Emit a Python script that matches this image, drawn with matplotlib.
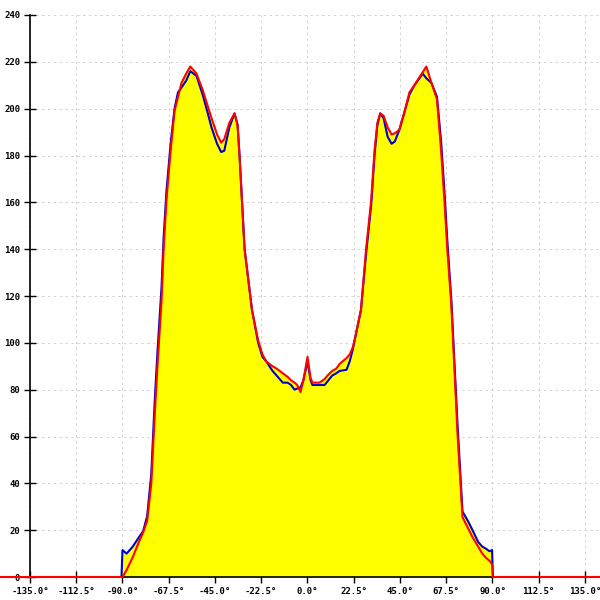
import numpy as np
import matplotlib
matplotlib.use('Agg')
import matplotlib.pyplot as plt

# angle grid (degrees) shared by both traces
angles = [-150, -90.5, -90, -88, -85, -82, -80, -78, -76, -74.4, -73, -71, -70,
          -68.6, -66.6, -64.7, -63, -61.3, -59, -57, -54, -51, -48.5, -46.7, -44,
          -42, -40.5, -38, -35.5, -34, -33, -30.6, -27, -24, -21.9, -20, -17, -15,
          -12, -9.7, -8, -6.3, -5, -3.4, -2, 0, 1.5, 2.4, 5.8, 8.3, 9.7, 12, 14,
          15.6, 19, 20.5, 22, 22.9, 26, 28.5, 31, 32.6, 34, 35.4, 37, 39, 40.9,
          42.5, 44.7, 47, 49.6, 52, 54.5, 56, 57.8, 60.3, 63, 65, 66.6, 68, 70,
          73, 75.4, 78, 80.3, 83, 85, 87, 88.5, 89.8, 90.2, 150]

red = [0, 0, 0, 3, 8.5, 15, 19, 24, 40, 68, 90, 118, 140,
       161, 182, 199, 205, 211, 215, 218, 215, 208, 201, 196, 189,
       185.5, 187, 194, 198, 193, 179, 140, 114, 101, 95, 92, 90, 89,
       87, 85.5, 84, 83, 82, 79, 84, 94, 85, 83, 83, 84.5, 86, 88, 89,
       91, 93.5, 95, 98, 101, 114, 140, 161, 182, 194, 198, 197, 192, 189,
       189.5, 191, 198, 207, 210, 213.5, 215.5, 218, 211, 204, 182, 161, 140, 116,
       61, 25.6, 21, 17, 13, 10, 8, 7, 5.5, 0, 0]

blue = [0, 0, 11.5, 10, 13, 17, 19.5, 26, 44, 74, 96, 124, 145,
        165, 185, 200, 207, 209, 212, 216, 214, 206, 198, 192, 185,
        181.5, 182, 192, 198, 193, 179, 140, 114, 100, 94, 92, 88, 86,
        83, 83, 82, 80, 80.5, 81, 84, 92, 84, 82, 82, 82, 83.5, 86, 87,
        88, 88.5, 92, 97, 101, 114, 138, 159, 180, 193, 198, 196, 188, 185,
        186, 191, 198, 206, 210, 213, 215, 213, 211, 205, 186, 165, 144, 118,
        65, 28, 24, 20, 15, 13, 12, 11, 11.5, 0, 0]

x_ticks = np.arange(-135, 135.1, 22.5)
y_ticks = np.arange(0, 241, 20)


def main():
	fig = plt.figure(figsize=(6, 6), dpi=100)
	ax = fig.add_axes([0.05, 0.0383, 0.95, 0.9367])

	top = np.maximum(np.array(red), np.array(blue))
	ax.fill_between(angles, top, 0, color='#ffff00', linewidth=0, zorder=2)
	ax.plot(angles, blue, color='#0000cc', linewidth=1.5, zorder=3)
	ax.plot(angles, red, color='#ff0000', linewidth=1.5, zorder=4, clip_on=False)

	ax.set_xlim(-135, 142.3)
	ax.set_ylim(0, 240)

	ax.set_xticks(x_ticks)
	ax.set_xticklabels(['{:.1f}\u00b0'.format(v) for v in x_ticks])
	ax.set_yticks(y_ticks)
	ax.set_yticklabels(['{:d}'.format(int(v)) for v in y_ticks])

	for lab in ax.get_xticklabels() + ax.get_yticklabels():
		lab.set_fontfamily('DejaVu Sans Mono')
		lab.set_fontsize(6.5)
		lab.set_fontweight('bold')

	ax.tick_params(axis='both', direction='inout', length=8, width=1, colors='black', pad=3)
	ax.grid(True, color='#cccccc', linestyle=(0, (3, 4)), linewidth=0.6, zorder=1)
	ax.set_axisbelow(True)

	ax.spines['top'].set_visible(False)
	ax.spines['right'].set_visible(False)
	ax.spines['left'].set_linewidth(1.2)
	ax.spines['bottom'].set_linewidth(1.2)

	plt.savefig('out.png', dpi=100)
	plt.close()


if __name__ == '__main__':
	main()
